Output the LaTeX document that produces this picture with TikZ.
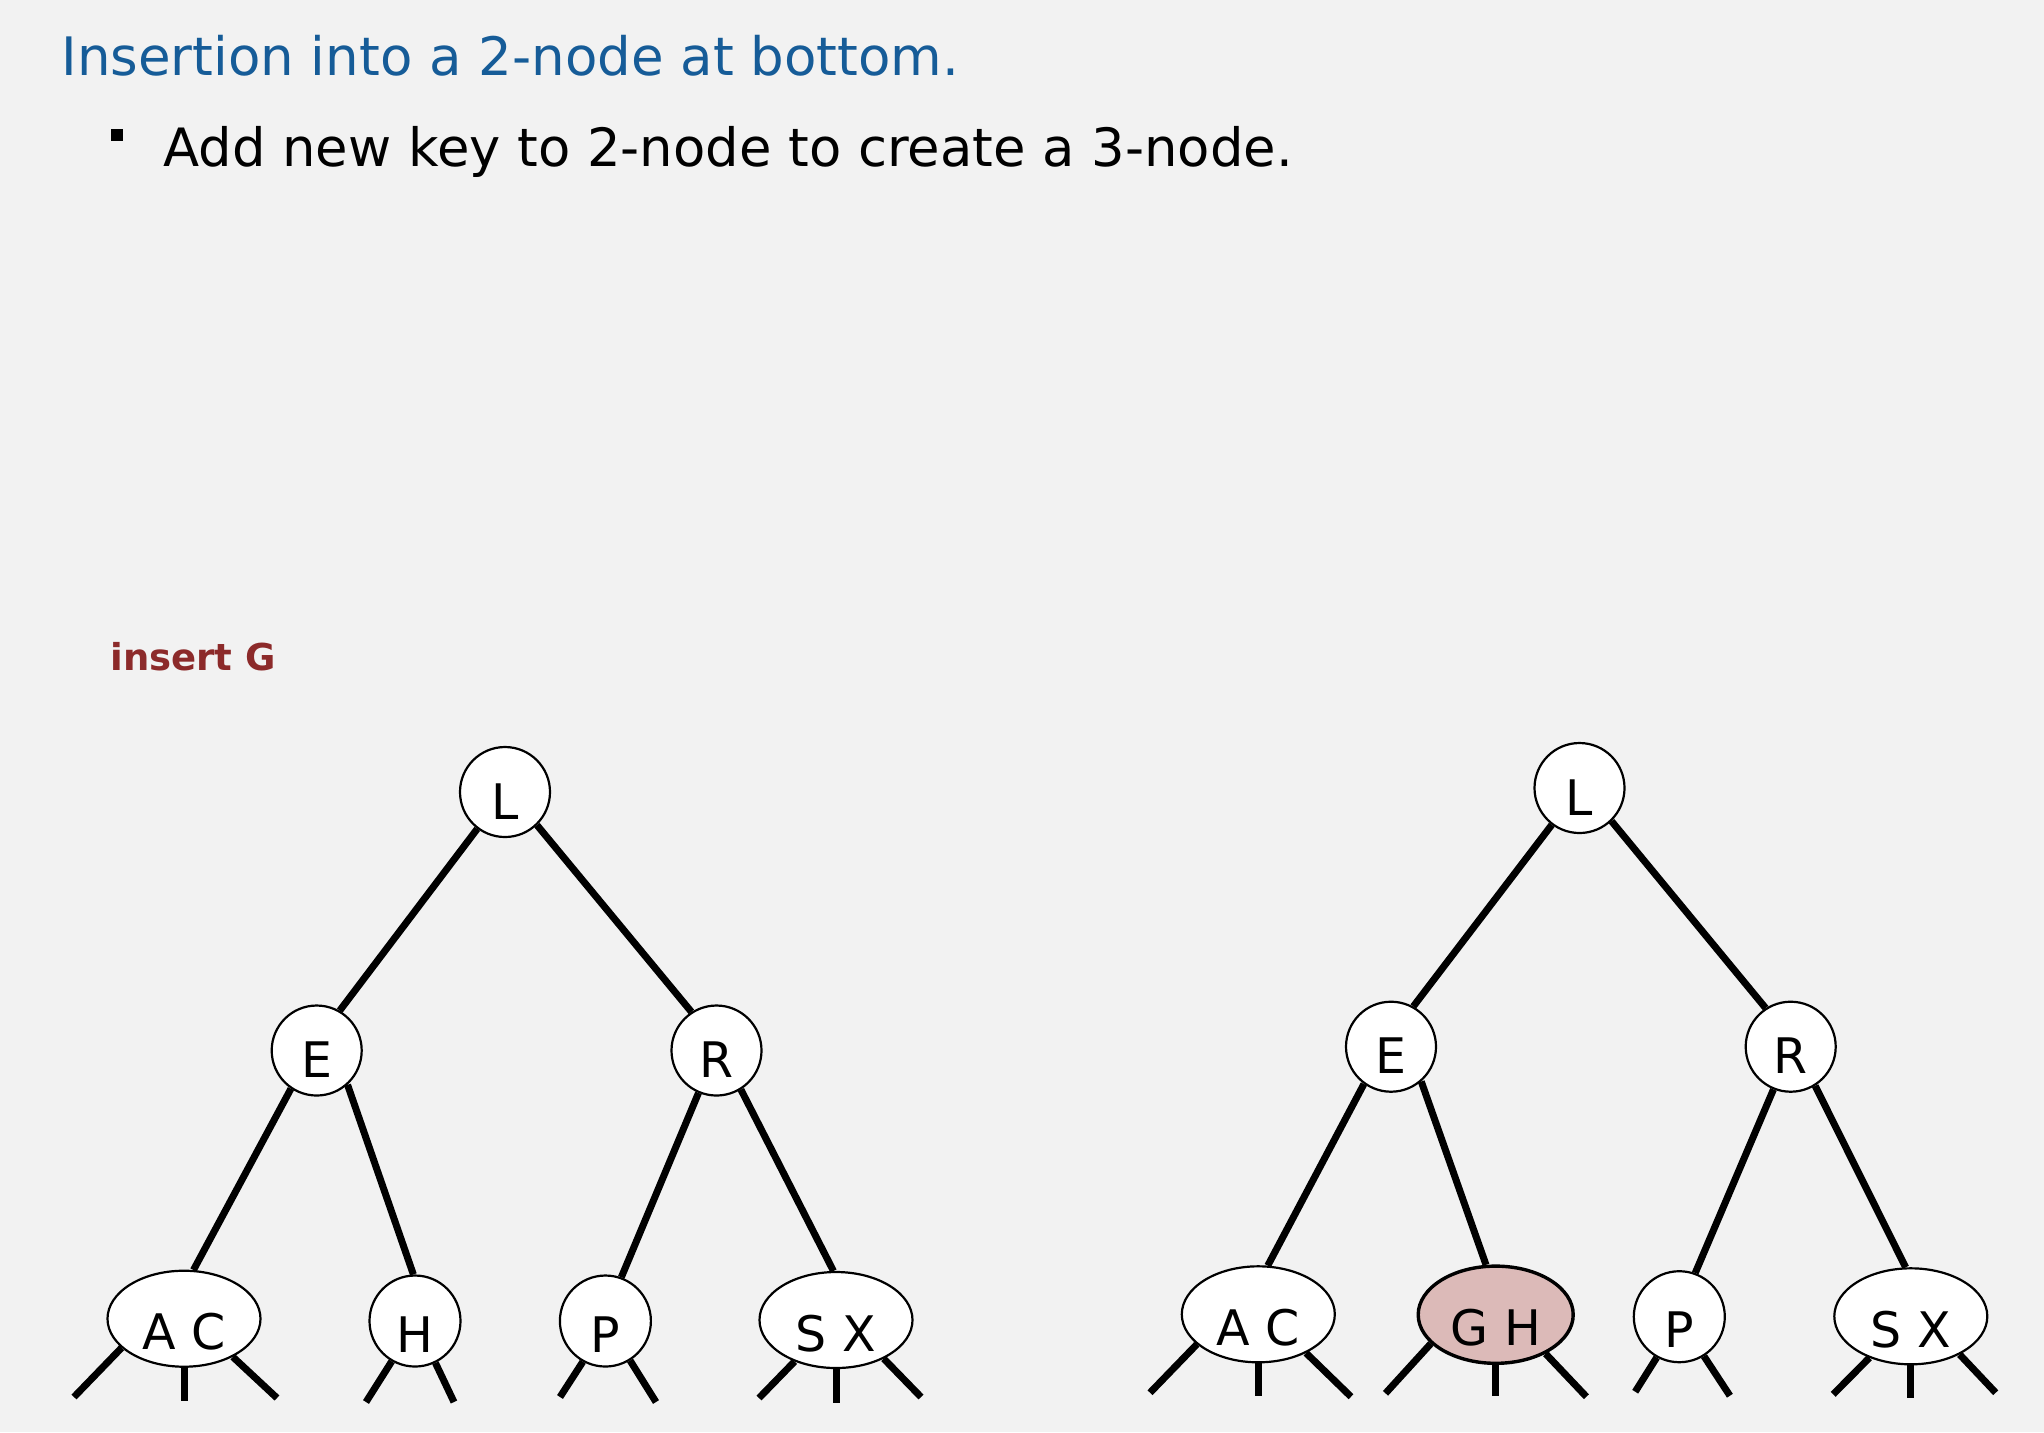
\documentclass[tikz,border=0pt]{standalone}
\usepackage{fontspec}
\setmainfont{DejaVu Sans}
\usetikzlibrary{shapes.geometric}
\definecolor{bgc}{RGB}{242,242,242}
\definecolor{titleblue}{RGB}{22,92,152}
\definecolor{insred}{RGB}{140,42,42}
\definecolor{hilite}{RGB}{220,186,184}
\begin{document}
\begin{tikzpicture}[x=0.5pt,y=-0.5pt,
  keyfont/.style={font=\fontsize{24.5}{24.5}\selectfont},
  topkey/.style={circle,draw=black,line width=1.1pt,fill=white,inner sep=0pt,minimum size=45pt,keyfont,text height=27pt,text depth=0pt},
  twokey/.style={ellipse,draw=black,line width=1.1pt,fill=white,inner sep=0pt,minimum width=45.5pt,minimum height=45.5pt,keyfont,text height=31pt,text depth=0pt},
  threekey/.style={ellipse,draw=black,line width=1.1pt,fill=white,inner sep=0pt,minimum width=76.5pt,minimum height=48pt,keyfont,text height=31pt,text depth=0pt},
  newkey/.style={threekey,fill=hilite,line width=1.7pt,minimum width=77.5pt,minimum height=48.6pt},
  link/.style={line width=3.5pt},
  leg/.style={line width=3.5pt},
  txt/.style={inner sep=0pt,anchor=base west}
]
\fill[bgc] (0,0) rectangle (2044,1432);

% texts
\node[txt,text=titleblue,font=\fontsize{26.5}{30}\selectfont] (title) at (61,75) {Insertion into a 2-node at bottom.};
\node[fill=black,inner sep=0pt,minimum size=6pt] (bul) at (117,134.5) {};
\node[txt,font=\fontsize{26.4}{30}\selectfont] (point) at (163,166) {Add new key to 2-node to create a 3-node.};
\node[txt,text=insred,font=\bfseries\fontsize{18.5}{22}\selectfont] (ins) at (110,670) {insert G};

% leg end coordinates
\coordinate (ACa) at (74,1397);   \coordinate (ACb) at (184,1401);  \coordinate (ACc) at (277,1398);
\coordinate (Ha) at (366,1402);   \coordinate (Hb) at (454,1402);
\coordinate (Pa) at (560,1397);   \coordinate (Pb) at (656,1402);
\coordinate (SXa) at (759,1398);  \coordinate (SXb) at (836,1403); \coordinate (SXc) at (921,1397);
\coordinate (AC2a) at (1150,1392.7); \coordinate (AC2b) at (1258.3,1396); \coordinate (AC2c) at (1351,1396.7);
\coordinate (GHa) at (1385.5,1393.3); \coordinate (GHb) at (1495.7,1396); \coordinate (GHc) at (1586.4,1396.7);
\coordinate (P2a) at (1635.2,1391.7); \coordinate (P2b) at (1729.9,1395.7);
\coordinate (SX2a) at (1833.2,1394.3); \coordinate (SX2b) at (1910.8,1398.3); \coordinate (SX2c) at (1995.7,1392.7);

% tree 1
\node[topkey] (L) at (505,792) {L};
\node[topkey] (E) at (316.7,1050.5) {E};
\node[topkey] (R) at (716.5,1050.5) {R};
\node[threekey] (AC) at (184,1318.7) {A C};
\node[twokey] (H) at (415,1321) {H};
\node[twokey] (P) at (605.4,1321) {P};
\node[threekey] (SX) at (836,1320) {S X};

\draw[link] (L.233) -- (E.60);
\draw[link] (L.314) -- (R.123);
\draw[link] (E.236) -- (AC.79);
\draw[link] (E.312) -- (H.92);
\draw[link] (R.247) -- (P.70);
\draw[link] (R.302) -- (SX.93);
\draw[leg] (AC.205) -- (ACa);
\draw[leg] (AC.south) -- (ACb);
\draw[leg] (AC.322) -- (ACc);
\draw[leg] (H.240) -- (Ha);
\draw[leg] (H.296) -- (Hb);
\draw[leg] (P.241) -- (Pa);
\draw[leg] (P.302) -- (Pb);
\draw[leg] (SX.225) -- (SXa);
\draw[leg] (SX.south) -- (SXb);
\draw[leg] (SX.321) -- (SXc);

% tree 2
\node[topkey] (L2) at (1579.5,788) {L};
\node[topkey] (E2) at (1391,1046.7) {E};
\node[topkey] (R2) at (1790.7,1046.7) {R};
\node[threekey] (AC2) at (1258.3,1314.3) {A C};
\node[newkey] (GH) at (1495.7,1314.7) {G H};
\node[twokey] (P2) at (1679.3,1316.7) {P};
\node[threekey] (SX2) at (1910.8,1316.3) {S X};

\draw[link] (L2.233) -- (E2.61);
\draw[link] (L2.314) -- (R2.123);
\draw[link] (E2.234) -- (AC2.79);
\draw[link] (E2.311) -- (GH.101);
\draw[link] (R2.248) -- (P2.70);
\draw[link] (R2.302) -- (SX2.96);
\draw[leg] (AC2.206) -- (AC2a);
\draw[leg] (AC2.south) -- (AC2b);
\draw[leg] (AC2.321) -- (AC2c);
\draw[leg] (GH.204) -- (GHa);
\draw[leg] (GH.south) -- (GHb);
\draw[leg] (GH.322) -- (GHc);
\draw[leg] (P2.241) -- (P2a);
\draw[leg] (P2.302) -- (P2b);
\draw[leg] (SX2.225) -- (SX2a);
\draw[leg] (SX2.south) -- (SX2b);
\draw[leg] (SX2.322) -- (SX2c);
\end{tikzpicture}
\end{document}
